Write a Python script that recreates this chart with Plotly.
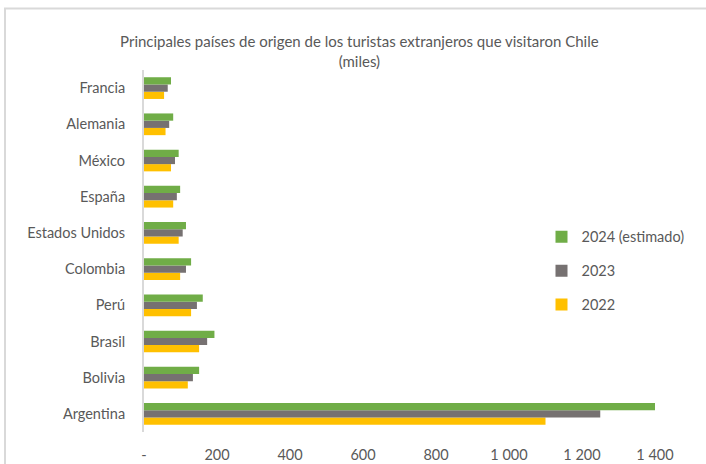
import plotly.graph_objects as go

countries = ["Argentina", "Bolivia", "Brasil", "Perú", "Colombia",
             "Estados Unidos", "España", "México", "Alemania", "Francia"]
v2022 = [1100, 120, 151, 129, 99, 95, 80, 74, 59, 55]
v2023 = [1250, 134, 173, 145, 115, 106, 90, 85, 69, 65]
v2024 = [1400, 151, 193, 161, 129, 115, 99, 95, 80, 74]

tick_vals = [0, 200, 400, 600, 800, 1000, 1200, 1400]
tick_text = ["-", "200", "400", "600", "800", "1 000", "1 200", "1 400"]

series = [("2022", v2022, "#FFC000", 3), ("2023", v2023, "#767171", 2),
          ("2024 (estimado)", v2024, "#70AD47", 1)]

fig = go.Figure()
for name, vals, col, rank in series:
    fig.add_trace(go.Bar(y=countries, x=vals, name=name, orientation="h",
                         marker=dict(color=col, line=dict(width=0)),
                         legendgroup=name, legendrank=rank))

txt = "#595959"
font = "Lato, 'Open Sans', sans-serif"
fig.update_layout(
    width=706, height=464,
    margin=dict(l=144, r=51, t=70, b=32, autoexpand=False),
    paper_bgcolor="white", plot_bgcolor="white",
    barmode="group", bargap=0.4, bargroupgap=0,
    font=dict(family=font, size=14.5, color=txt),
    title=dict(text="Principales países de origen de los turistas extranjeros que visitaron Chile<br>(miles)",
               x=0.509, xanchor="center", y=0.898, yanchor="middle",
               font=dict(size=15, color=txt, family=font)),
    legend=dict(xref="container", yref="container",
                x=0.767, y=0.524, xanchor="left", yanchor="top",
                traceorder="grouped", tracegroupgap=12,
                bgcolor="rgba(0,0,0,0)", font=dict(size=14.5, color=txt)),
    xaxis=dict(range=[0, 1400], tickvals=tick_vals, ticktext=tick_text,
               showgrid=False, zeroline=False, showline=False,
               ticks="outside", ticklen=10, tickcolor="rgba(0,0,0,0)",
               tickfont=dict(size=14.5, color=txt)),
    yaxis=dict(showgrid=False, zeroline=False, showline=True,
               linecolor="#D9D9D9", linewidth=2,
               ticks="outside", ticklen=14, tickcolor="rgba(0,0,0,0)",
               tickfont=dict(size=14.5, color=txt)),
    shapes=[dict(type="rect", xref="paper", yref="paper",
                 x0=-0.272, x1=1.2, y0=-0.2, y1=1.170,
                 line=dict(color="#D9D9D9", width=2), fillcolor="rgba(0,0,0,0)",
                 layer="below")],
)

fig.write_html("out.html", config={"displayModeBar": False},
               post_script="document.body.style.margin='0px';document.body.style.overflow='hidden';")
